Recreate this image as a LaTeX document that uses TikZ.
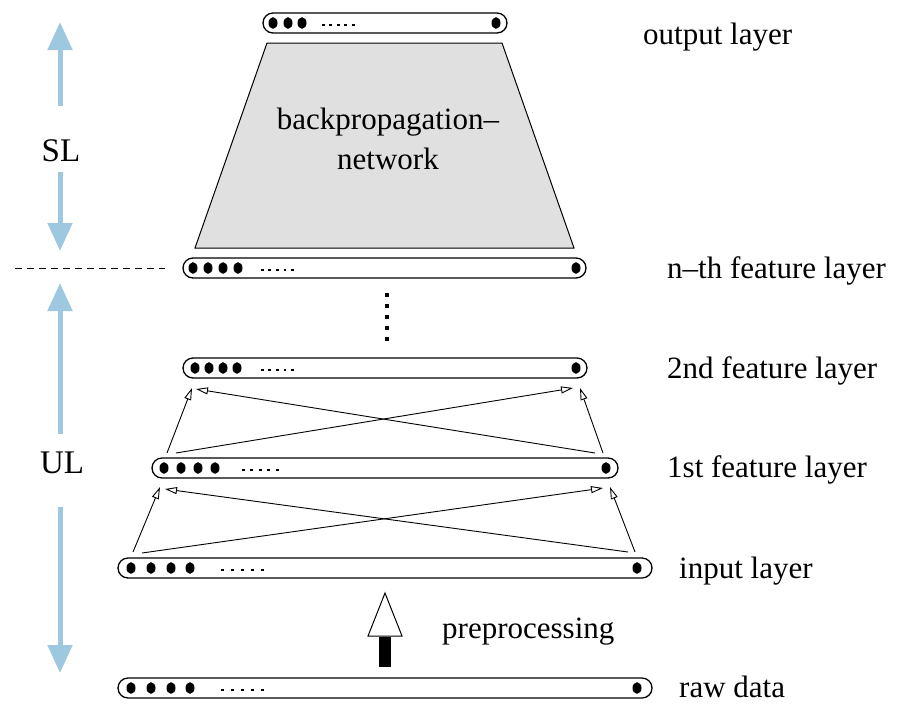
\documentclass[tikz,border=0pt]{standalone}
\usepackage{fontspec}
\setmainfont{Liberation Serif}
\usetikzlibrary{arrows.meta}
\definecolor{lblue}{RGB}{158,199,224}
\definecolor{netgray}{RGB}{224,224,224}
\newcommand\ldot[2]{\fill (#1,#2) ellipse [x radius=4.5pt, y radius=5.8pt];}
\newcommand\ellip[3]{\foreach \i in {0,...,4}{\fill ({#1+\i*#2-1.3},{#3+0.6}) rectangle ++(2.8,2.8);}}
\tikzset{
  bar/.style={draw, rounded corners=10pt, minimum height=20pt, inner sep=0pt, line width=1.3pt},
  lab/.style={anchor=base west, font=\fontsize{31}{36}\selectfont, inner sep=0pt},
  side/.style={anchor=center, font=\fontsize{33}{38}\selectfont, inner sep=0pt},
  conn/.style={line width=0.9pt, -{Triangle[open, length=12pt, width=7pt]}},
  blue/.style={draw=lblue, line width=5pt, -{Triangle[length=28pt, width=24pt]}}
}
\begin{document}
\begin{tikzpicture}[x=1pt, y=-1pt]
\useasboundingbox (0,0) rectangle (909,710);
% trapezoid network
\draw[fill=netgray, line width=1pt] (267,43) -- (502,43) -- (574,248) -- (195,248) -- cycle;
\node[align=center, font=\fontsize{31}{40}\selectfont, inner sep=0pt] (bp) at (388,139) {backpropagation–\\network};
% layers
\node[bar, minimum width=244pt] (out) at (385,23) {};
\ldot{273}{23}\ldot{288}{23}\ldot{302}{23}\ellip{323}{7.5}{23}\ldot{496}{23}
\node[bar, minimum width=403pt] (nth) at (384.5,268) {};
\ldot{193}{268}\ldot{208}{268}\ldot{223}{268}\ldot{238}{268}\ellip{262}{7.6}{268}\ldot{576}{268}
\node[bar, minimum width=404pt] (l2) at (385,368) {};
\ldot{195}{368}\ldot{209}{368}\ldot{223}{368}\ldot{237}{368}\ellip{262}{7.6}{368}\ldot{576}{368}
\node[bar, minimum width=466pt] (l1) at (385,468) {};
\ldot{164}{468}\ldot{181}{468}\ldot{198}{468}\ldot{215}{468}\ellip{243}{8.5}{468}\ldot{606}{468}
\node[bar, minimum width=534pt] (in) at (385,568) {};
\ldot{131}{568}\ldot{151}{568}\ldot{171}{568}\ldot{190}{568}\ellip{222}{10}{568}\ldot{637}{568}
\node[bar, minimum width=534pt] (raw) at (385,688) {};
\ldot{131}{688}\ldot{151}{688}\ldot{171}{688}\ldot{190}{688}\ellip{222}{10}{688}\ldot{637}{688}
% vertical dotted continuation
\foreach \yy in {293,304,315,326,337}{\fill (385,\yy) rectangle ++(4,4);}
% connectors input -> 1st
\coordinate (e1) at (133,552); \coordinate (e2) at (160,487);
\coordinate (f1) at (142,553); \coordinate (f2) at (603,488);
\coordinate (g1) at (628,552); \coordinate (g2) at (165,489);
\coordinate (h1) at (635,552); \coordinate (h2) at (610,487);
\draw[conn] (e1) -- (e2);
\draw[conn] (f1) -- (f2);
\draw[conn] (g1) -- (g2);
\draw[conn] (h1) -- (h2);
% connectors 1st -> 2nd
\coordinate (a1) at (167,453); \coordinate (a2) at (192,388);
\coordinate (b1) at (176,453); \coordinate (b2) at (573,388);
\coordinate (c1) at (595,453); \coordinate (c2) at (196,389);
\coordinate (d1) at (603,453); \coordinate (d2) at (580,388);
\draw[conn] (a1) -- (a2);
\draw[conn] (b1) -- (b2);
\draw[conn] (c1) -- (c2);
\draw[conn] (d1) -- (d2);
% preprocessing arrow
\draw[line width=1pt, fill=white] (368,636) -- (385,593) -- (402,636) -- cycle;
\fill (379,636.5) rectangle (391,667);
\node[lab] (pre) at (442,638) {preprocessing};
% dashed separator
\draw[dashed, dash pattern=on 7pt off 5pt, line width=0.8pt] (15,268) -- (165,268);
% SL / UL
\node[side] (sl) at (61,151) {SL};
\node[side] (ul) at (62,463) {UL};
\draw[blue] (60,106) -- (60,22);
\draw[blue] (60,172) -- (60,251);
\draw[blue] (60,434) -- (60,283);
\draw[blue] (60,507) -- (60,673);
% labels
\node[lab] (tout) at (643,44) {output layer};
\node[lab] (tnth) at (667,278) {n–th feature layer};
\node[lab] (t2) at (667,378) {2nd feature layer};
\node[lab] (t1) at (667,477) {1st feature layer};
\node[lab] (tin) at (679,578) {input layer};
\node[lab] (traw) at (679,697) {raw data};
\end{tikzpicture}
\end{document}
